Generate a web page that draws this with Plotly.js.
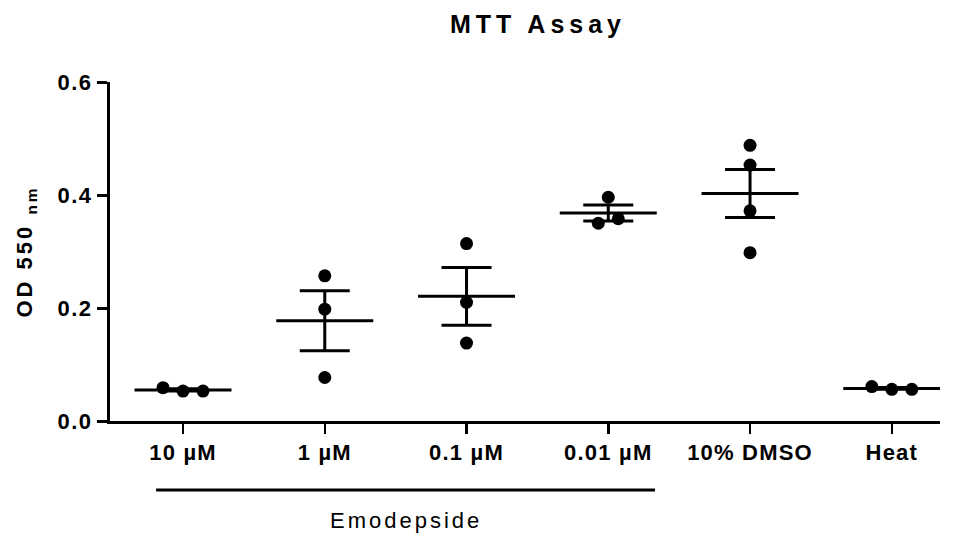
<!DOCTYPE html>
<html>
<head>
<meta charset="utf-8">
<script src="https://cdn.plot.ly/plotly-3.0.1.min.js"></script>
<style>
  html, body { margin: 0; padding: 0; background: #fff; }
  #chart { width: 970px; height: 540px; }
  .xtick text { letter-spacing: 1.2px; }
  .ytick text { letter-spacing: 1.5px; }
  .gtitle { letter-spacing: 5px; }
  .g-ytitle text { letter-spacing: 3px; }
  .annotation-text { letter-spacing: 3px; }
</style>
</head>
<body>
<div id="chart"></div>
<script>
// Treatment groups on the x axis
const groups = ['10 µM', '1 µM', '0.1 µM', '0.01 µM', '10% DMSO', 'Heat'];

// OD 550 nm readings per replicate well
const od10uM   = [0.059, 0.053, 0.053];
const od1uM    = [0.257, 0.198, 0.077];
const od01uM   = [0.314, 0.210, 0.138];
const od001uM  = [0.396, 0.350, 0.358];
const odDMSO   = [0.488, 0.453, 0.372, 0.298];
const odHeat   = [0.061, 0.056, 0.056];

const yTicks = [0, 0.2, 0.4, 0.6];

const allGroups = [od10uM, od1uM, od01uM, od001uM, odDMSO, odHeat];

// plot geometry
const W = 970, H = 540;
const M = { l: 110, r: 30, t: 82, b: 119 };
const PW = W - M.l - M.r, PH = H - M.t - M.b;
const xRange = [-0.515, 5.34];
const yRange = [0, 0.6];
const pxPerX = PW / (xRange[1] - xRange[0]);
const pxPerY = PH / (yRange[1] - yRange[0]);

const DOT = 13;       // marker diameter, px
const SPREAD = 20;    // horizontal spacing of overlapping dots, px

// Spread overlapping dots sideways (simple column scatter)
function offsets(vals) {
  const order = vals.map((v, i) => i).sort((a, b) => vals[b] - vals[a]);
  const clusters = [];
  let cur = [order[0]];
  for (let k = 1; k < order.length; k++) {
    const gap = (vals[order[k - 1]] - vals[order[k]]) * pxPerY;
    if (gap < DOT) cur.push(order[k]); else { clusters.push(cur); cur = [order[k]]; }
  }
  clusters.push(cur);
  const off = new Array(vals.length).fill(0);
  clusters.forEach(c => {
    const members = c.slice().sort((a, b) => a - b);
    members.forEach((idx, j) => {
      off[idx] = (j - (members.length - 1) / 2) * SPREAD / pxPerX;
    });
  });
  return off;
}

const mean = a => a.reduce((s, v) => s + v, 0) / a.length;
const sem = a => {
  const m = mean(a);
  const sd = Math.sqrt(a.reduce((s, v) => s + (v - m) * (v - m), 0) / (a.length - 1));
  return sd / Math.sqrt(a.length);
};

const ptX = [], ptY = [];
allGroups.forEach((vals, i) => {
  const off = offsets(vals);
  vals.forEach((v, j) => { ptX.push(i + off[j]); ptY.push(v); });
});

const means = allGroups.map(mean);
const sems = allGroups.map(sem);
const idx = groups.map((g, i) => i);

// horizontal mean bars
const MEAN_HALF = 48.5 / pxPerX;
const mX = [], mY = [];
means.forEach((m, i) => { mX.push(i - MEAN_HALF, i + MEAN_HALF, null); mY.push(m, m, null); });

const traces = [
  {
    x: ptX, y: ptY, type: 'scatter', mode: 'markers',
    marker: { size: DOT, color: '#000' },
    hoverinfo: 'y', showlegend: false, cliponaxis: false
  },
  {
    x: mX, y: mY, type: 'scatter', mode: 'lines',
    line: { color: '#000', width: 3 },
    hoverinfo: 'skip', showlegend: false
  },
  {
    x: idx, y: means, type: 'scatter', mode: 'markers',
    marker: { size: 1, color: 'rgba(0,0,0,0)' },
    error_y: { type: 'data', array: sems, visible: true, color: '#000', thickness: 3, width: 25 },
    hoverinfo: 'y', showlegend: false
  }
];

const fontFam = '"Liberation Sans", Arial, sans-serif';
const pyPaper = py => (M.t + PH - py) / PH;   // pixel row -> paper y

const layout = {
  width: W, height: H,
  margin: M,
  paper_bgcolor: '#fff', plot_bgcolor: '#fff',
  font: { family: fontFam, color: '#000' },
  title: {
    text: '<b>MTT Assay</b>',
    font: { size: 25, family: fontFam, color: '#000' },
    x: (538 - M.l) / PW, xref: 'paper', xanchor: 'center',
    y: 1 - 24 / H, yref: 'container', yanchor: 'middle'
  },
  xaxis: {
    range: xRange, tickmode: 'array', tickvals: idx, ticktext: groups,
    showline: true, linecolor: '#000', linewidth: 3,
    ticks: 'outside', ticklen: 10, tickwidth: 2.5, tickcolor: '#000',
    showgrid: false, zeroline: false,
    tickfont: { size: 22, family: fontFam, color: '#000', weight: 'bold' }
  },
  yaxis: {
    range: yRange, tickmode: 'array', tickvals: yTicks, tickformat: '.1f',
    showline: true, linecolor: '#000', linewidth: 3,
    ticks: 'outside', ticklen: 10, tickwidth: 3, tickcolor: '#000',
    showgrid: false, zeroline: false,
    tickfont: { size: 22, family: fontFam, color: '#000', weight: 'bold' },
    title: { text: '<b>OD 550 <sub>nm</sub></b>', font: { size: 22, family: fontFam, color: '#000' }, standoff: 19 }
  },
  shapes: [
    { type: 'line', xref: 'x', yref: 'paper', x0: -0.19, x1: 3.33,
      y0: pyPaper(490), y1: pyPaper(490),
      line: { color: '#000', width: 3 } }
  ],
  annotations: [
    { text: 'Emodepside', xref: 'x', yref: 'paper', x: 1.57,
      y: pyPaper(520), yanchor: 'middle', xanchor: 'center',
      showarrow: false, font: { size: 22, family: fontFam, color: '#000' } }
  ]
};

Plotly.newPlot('chart', traces, layout, { displayModeBar: false, staticPlot: true });
</script>
</body>
</html>
